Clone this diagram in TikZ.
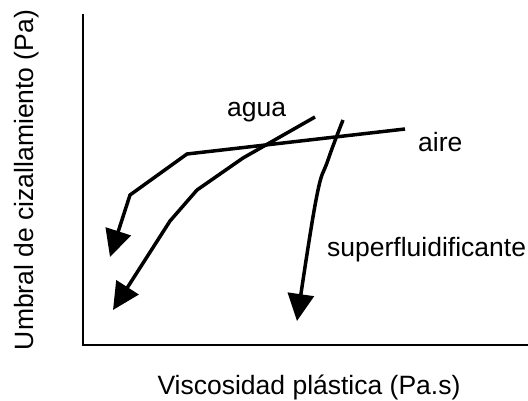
\documentclass[tikz,border=0pt]{standalone}
\usepackage{fontspec}
\setmainfont{Liberation Sans}
\usetikzlibrary{arrows.meta}

\tikzset{
  curve/.style={line width=3.5pt, line join=round,
    -{Triangle[length=27pt,width=26pt]}},
  lbl/.style={inner sep=0pt, font=\fontsize{26.5}{31}\selectfont}
}

\begin{document}
\begin{tikzpicture}[x=1pt,y=-1pt]
        \useasboundingbox (0,0) rectangle (528,401);
        % axes
        \coordinate (ytop) at (83,14);
        \coordinate (xend) at (528,345);
        \draw[line width=1.5pt] (ytop) |- (xend);
        \node[lbl,rotate=90,anchor=base](ylab) at (33,180) {Umbral de cizallamiento (Pa)};
        \node[lbl,anchor=base](xlab) at (309,394) {Viscosidad plástica (Pa.s)};
        % curves
        \draw[curve] (405,129) -- (187,154) -- (130,195) -- (110,257);
        \draw[curve] (315,117) -- (243,158) -- (197,190) -- (170,221) -- (113,310);
        \draw[curve] plot[smooth,tension=0.7] coordinates {(343,120) (328,160) (316,200) (297,321)};
        \node[lbl,anchor=base west](agua) at (227,117) {agua};
        \node[lbl,anchor=base west](aire) at (418,152) {aire};
        \node[lbl,anchor=base west](sf) at (327,257) {superfluidificante};
    \end{tikzpicture}
\end{document}
